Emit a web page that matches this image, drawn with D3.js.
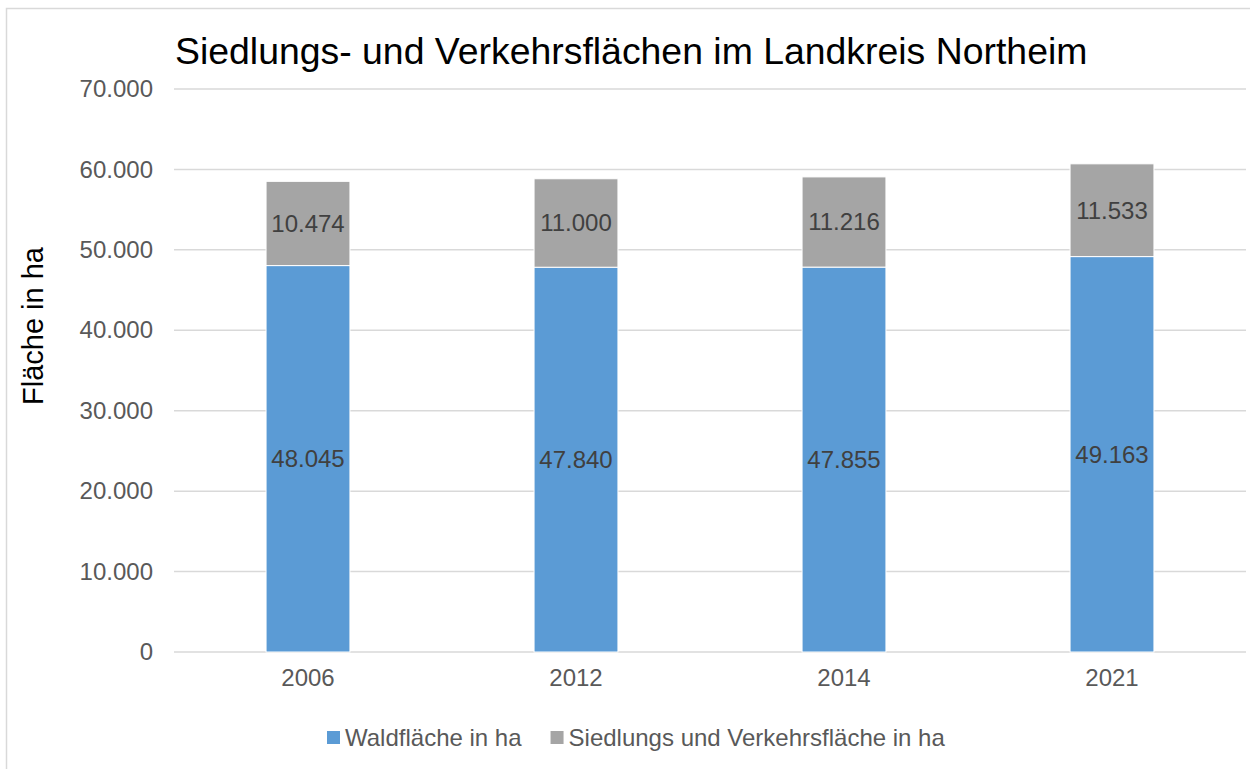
<!DOCTYPE html>
<html>
<head>
<meta charset="utf-8">
<script src="https://cdn.jsdelivr.net/npm/d3@7"></script>
<style>
  body { margin: 0; background: #fff; }
  svg { font-family: "Liberation Sans", Arial, sans-serif; }
</style>
</head>
<body>
<svg id="chart" width="1250" height="769"></svg>
<script>
const years = ["2006", "2012", "2014", "2021"];
const wald = [48045, 47840, 47855, 49163];
const siedlung = [10474, 11000, 11216, 11533];
const seriesNames = ["Waldfläche in ha", "Siedlungs und Verkehrsfläche in ha"];
const seriesColors = ["#5B9BD5", "#A5A5A5"];
const yTicks = [0, 10000, 20000, 30000, 40000, 50000, 60000, 70000];

const svg = d3.select("#chart");
const margin = { top: 89, bottom: 117, left: 174, right: 4 };
const width = 1250, height = 769;
const innerW = width - margin.left - margin.right;
const innerH = height - margin.top - margin.bottom;

// German number format: dot as thousands separator
const de = d3.formatLocale({ decimal: ",", thousands: ".", grouping: [3], currency: ["", "€"] });
const fmt = de.format(",d");

// outer chart border (only top/left visible in the picture)
svg.append("rect")
  .attr("x", 6.5).attr("y", 8.5)
  .attr("width", 1260).attr("height", 780)
  .attr("fill", "none").attr("stroke", "#D9D9D9").attr("stroke-width", 1.5);

const g = svg.append("g").attr("transform", `translate(${margin.left},${margin.top})`);

const x = d3.scaleBand().domain(years).range([0, innerW])
  .paddingInner(0.687).paddingOuter(0.3435);
const y = d3.scaleLinear().domain([0, 70000]).range([innerH, 0]);

// gridlines
g.append("g")
  .selectAll("line")
  .data(yTicks)
  .join("line")
  .attr("x1", 0).attr("x2", innerW)
  .attr("y1", d => y(d)).attr("y2", d => y(d))
  .attr("stroke", "#D9D9D9").attr("stroke-width", 1.5);

// y axis labels
const yAxis = d3.axisLeft(y).tickValues(yTicks).tickFormat(fmt).tickSize(0).tickPadding(21);
g.append("g").call(yAxis)
  .call(a => a.select(".domain").remove())
  .selectAll("text")
  .attr("fill", "#595959").style("font-size", "24px");

// x axis labels
const xAxis = d3.axisBottom(x).tickSize(0).tickPadding(17);
g.append("g").attr("transform", `translate(0,${innerH})`).call(xAxis)
  .call(a => a.select(".domain").remove())
  .selectAll("text")
  .attr("fill", "#595959").style("font-size", "24px");

// stacked data
const rows = years.map((yr, i) => ({ year: yr, wald: wald[i], siedlung: siedlung[i] }));
const stack = d3.stack().keys(["wald", "siedlung"]);
const stacked = stack(rows);

const layers = g.selectAll(".layer")
  .data(stacked)
  .join("g")
  .attr("class", "layer")
  .attr("fill", (d, i) => seriesColors[i]);

layers.selectAll("rect")
  .data(d => d)
  .join("rect")
  .attr("x", d => x(d.data.year))
  .attr("width", x.bandwidth())
  .attr("y", d => y(d[1]))
  .attr("height", d => y(d[0]) - y(d[1]))
  .attr("stroke", "#fff").attr("stroke-width", 1);

// data labels
layers.selectAll("text")
  .data(d => d)
  .join("text")
  .attr("x", d => x(d.data.year) + x.bandwidth() / 2)
  .attr("y", d => (y(d[0]) + y(d[1])) / 2)
  .attr("dy", "0.35em")
  .attr("text-anchor", "middle")
  .attr("fill", "#404040")
  .style("font-size", "24px")
  .text(d => fmt(d[1] - d[0]));

// title
svg.append("text")
  .attr("x", 175).attr("y", 64)
  .attr("fill", "#000")
  .style("font-size", "37.4px")
  .text("Siedlungs- und Verkehrsflächen im Landkreis Northeim");

// y axis title
svg.append("text")
  .attr("transform", "translate(43,326) rotate(-90)")
  .attr("text-anchor", "middle")
  .attr("fill", "#000")
  .style("font-size", "29px")
  .text("Fläche in ha");

// legend
const legend = svg.append("g").attr("transform", "translate(327,731)");
let lx = 0;
seriesNames.forEach((name, i) => {
  const item = legend.append("g").attr("transform", `translate(${lx},0)`);
  item.append("rect").attr("width", 13).attr("height", 13).attr("fill", seriesColors[i]);
  const t = item.append("text")
    .attr("x", 18).attr("y", 15)
    .attr("fill", "#595959")
    .style("font-size", "24px")
    .text(name);
  lx += 18 + t.node().getComputedTextLength() + 29;
});
</script>
</body>
</html>
